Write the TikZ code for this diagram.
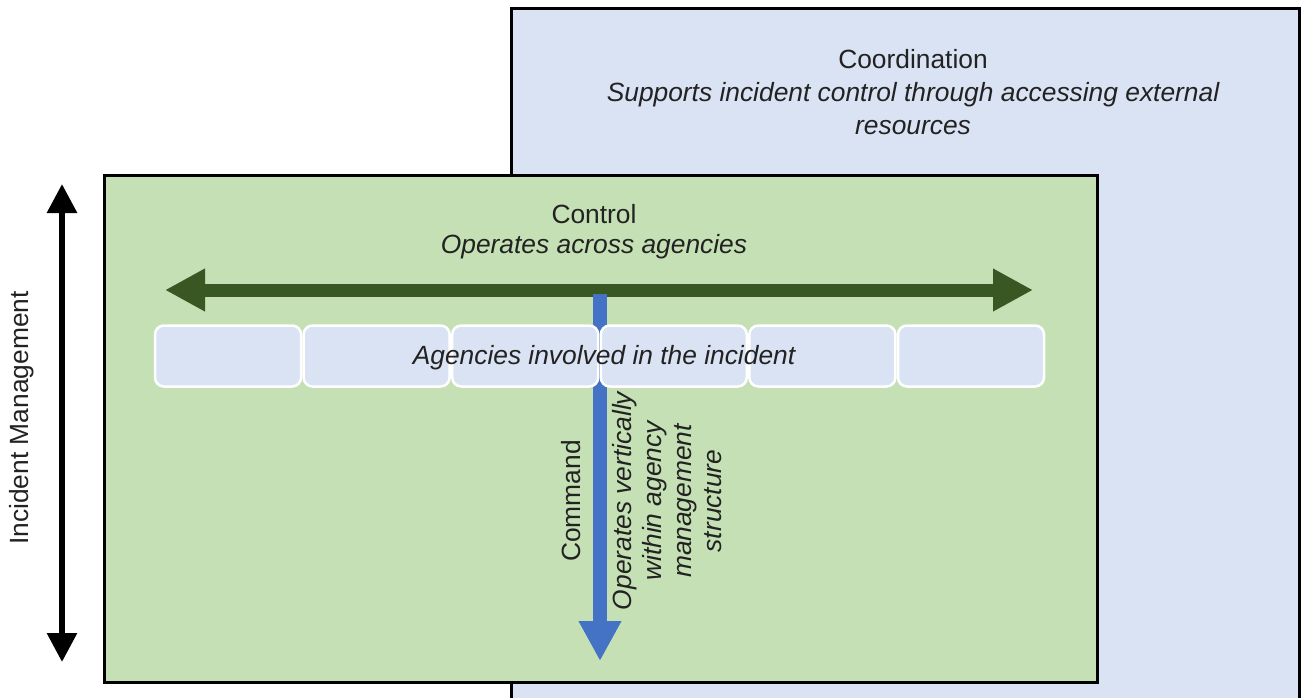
\documentclass[tikz,border=0pt]{standalone}
\usepackage{fontspec}
\setmainfont{Liberation Sans}
\usetikzlibrary{arrows.meta}

\definecolor{ctrlgreen}{HTML}{C5E0B4}
\definecolor{coordblue}{HTML}{DAE3F3}
\definecolor{arrowgreen}{HTML}{385723}
\definecolor{cmdblue}{HTML}{4472C4}
\definecolor{inktext}{HTML}{222222}

\begin{document}
\begin{tikzpicture}[x=0.1mm, y=-0.1mm,
      font=\fontsize{7.5}{9.4}\selectfont,
      every node/.style = {text=inktext},
      panel/.style = {draw=black, line width=0.3mm},
      agency/.style = {draw=white, line width=0.25mm, fill=coordblue,
        rounded corners=0.9mm, minimum width=14.6mm, minimum height=6.1mm, inner sep=0pt},
      note/.style = {inner sep=1pt, align=center, font=\fontsize{7.5}{9.4}\selectfont\itshape},
      bigtip/.tip = {Triangle[length=4mm, width=4mm]},
      smalltip/.tip = {Triangle[length=2.9mm, width=2.9mm]}]
    \useasboundingbox (0,0) rectangle (1303,698);
    \clip (0,0) rectangle (1303,698);

    % panels
    \draw[panel, fill=coordblue] (511,8) rectangle (1299,740);
    \draw[panel, fill=ctrlgreen] (104,175) rectangle (1097,682);

    % coordination
    \node (coord) at (913,59) {Coordination};
    \node[note] (coordnote) at (913,109) {Supports incident control through accessing external\\resources};

    % control
    \node (ctrl) at (594,214) {Control};
    \node[note] (ctrlnote) at (594,247) {Operates across agencies};
    \coordinate (gl) at (165,290);
    \coordinate (gr) at (1033,290);
    \draw[arrowgreen, line width=1.3mm, bigtip-bigtip] (gl) -- (gr);

    % command
    \coordinate (ct) at (600,294);
    \coordinate (cb) at (600,661);
    \draw[cmdblue, line width=1.35mm, -bigtip] (ct) -- (cb);
    \node[rotate=90] (cmd) at (571,501) {Command};
    \node[note, rotate=90, font=\fontsize{7.5}{8.6}\selectfont\itshape] (cmdnote) at (667,501)
      {Operates vertically\\within agency\\management\\structure};

    % agencies
    \foreach \i in {1,...,6}
      \node[agency] (ag\i) at ({79.4+148.6*\i},356) {};
    \node[note] (agtext) at (604,358) {Agencies involved in the incident};

    % incident management
    \coordinate (it) at (62,184);
    \coordinate (ib) at (62,662);
    \draw[black, line width=0.6mm, smalltip-smalltip] (it) -- (ib);
    \node[rotate=90] (im) at (22,418) {Incident Management};
  \end{tikzpicture}
\end{document}
